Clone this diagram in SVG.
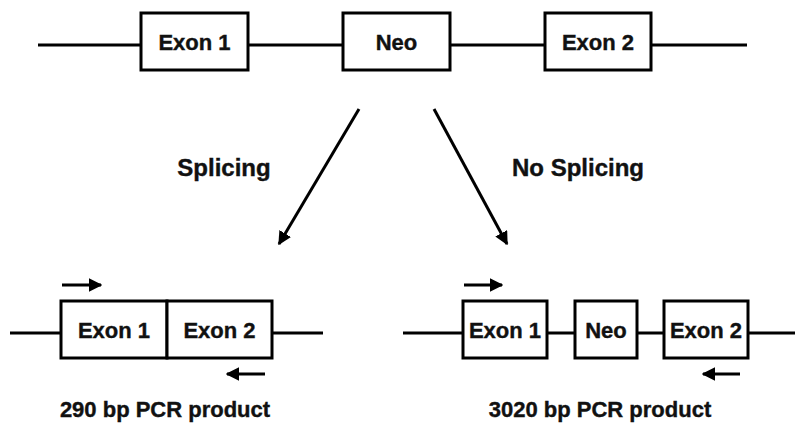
<svg xmlns="http://www.w3.org/2000/svg" width="795" height="424" viewBox="0 0 795 424">
<style>
.ln{stroke:#000;stroke-width:3;fill:none}
.box{stroke:#000;stroke-width:3;fill:#fff}
.t{font-family:"Liberation Sans",Arial,sans-serif;font-weight:bold;fill:#111;stroke:#111;stroke-width:0.4;text-anchor:middle}
.lb{font-size:22px}
.cap{font-size:24px}
.pc{font-size:22px}
</style>
<defs>
<marker id="ah" viewBox="0 0 10 10" refX="9" refY="5" markerWidth="4.5" markerHeight="4.5" orient="auto" markerUnits="strokeWidth">
<path d="M0,0 L10,5 L0,10 z" fill="#000"/>
</marker>
</defs>
<g id="connectors">
<line class="ln" x1="38" y1="45" x2="747" y2="45"/>
<line class="ln" x1="10" y1="333" x2="323" y2="333"/>
<line class="ln" x1="403" y1="333" x2="795" y2="333"/>
<line class="ln" x1="359" y1="109" x2="279" y2="244" marker-end="url(#ah)"/>
<line class="ln" x1="434" y1="109" x2="507" y2="244" marker-end="url(#ah)"/>
<line class="ln" x1="62" y1="285" x2="101" y2="285" marker-end="url(#ah)"/>
<line class="ln" x1="265" y1="374" x2="227" y2="374" marker-end="url(#ah)"/>
<line class="ln" x1="464" y1="285" x2="502" y2="285" marker-end="url(#ah)"/>
<line class="ln" x1="740" y1="374" x2="703" y2="374" marker-end="url(#ah)"/>
</g>
<g id="top-exon1"><rect class="box" x="141" y="13" width="107" height="57"/><text class="t lb" x="194.5" y="50">Exon 1</text></g>
<g id="top-neo"><rect class="box" x="343" y="13" width="107" height="57"/><text class="t lb" x="396.5" y="50">Neo</text></g>
<g id="top-exon2"><rect class="box" x="545" y="13" width="106" height="57"/><text class="t lb" x="598" y="50">Exon 2</text></g>
<g id="label-splicing"><text class="t cap" x="224" y="176">Splicing</text></g>
<g id="label-nosplicing"><text class="t cap" x="578" y="176">No Splicing</text></g>
<g id="spliced-exon1"><rect class="box" x="61" y="301" width="106" height="57"/><text class="t lb" x="114" y="338">Exon 1</text></g>
<g id="spliced-exon2"><rect class="box" x="167" y="301" width="105" height="57"/><text class="t lb" x="219.5" y="338">Exon 2</text></g>
<g id="unspliced-exon1"><rect class="box" x="463" y="301" width="84" height="57"/><text class="t lb" x="505" y="338">Exon 1</text></g>
<g id="unspliced-neo"><rect class="box" x="575" y="301" width="62" height="57"/><text class="t lb" x="606" y="338">Neo</text></g>
<g id="unspliced-exon2"><rect class="box" x="664" y="301" width="84" height="57"/><text class="t lb" x="706" y="338">Exon 2</text></g>
<g id="caption-290"><text class="t pc" x="165" y="417">290 bp PCR product</text></g>
<g id="caption-3020"><text class="t pc" x="600" y="417">3020 bp PCR product</text></g>
</svg>
